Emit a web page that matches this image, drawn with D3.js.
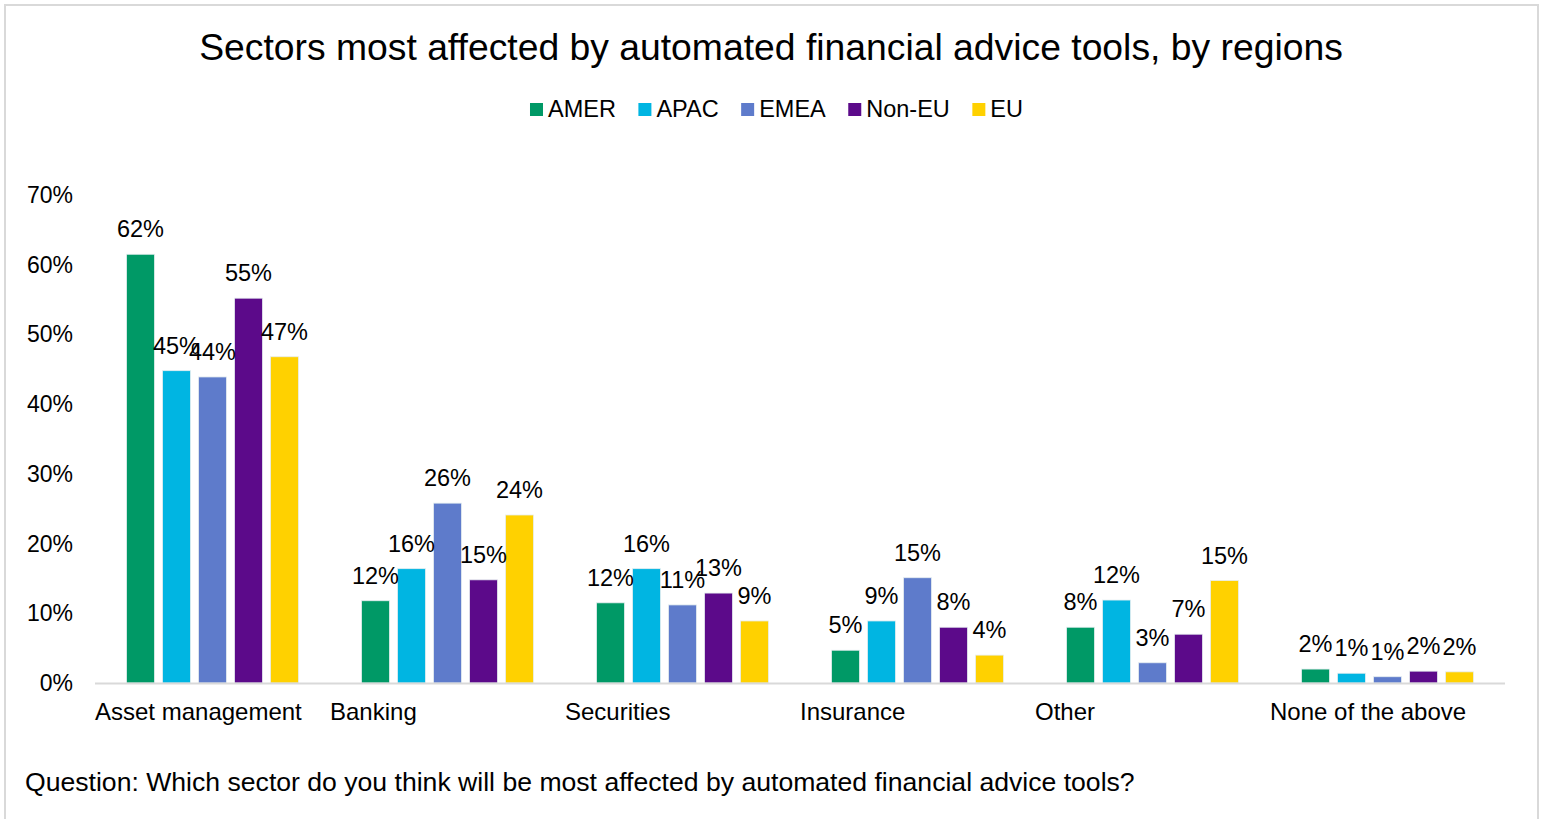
<!DOCTYPE html>
<html><head><meta charset="utf-8">
<script src="https://cdn.jsdelivr.net/npm/d3@7"></script>
<style>body{margin:0;background:#fff}svg{display:block;font-family:"Liberation Sans",Arial,sans-serif}</style>
</head><body>
<svg id="c" width="1541" height="819"></svg>
<script>
const categories = ["Asset management","Banking","Securities","Insurance","Other","None of the above"];
const seriesNames = ["AMER","APAC","EMEA","Non-EU","EU"];
const seriesColors = ["#009966","#00B5E2","#5E7BCB","#5C0A8A","#FFD100"];
const AMER  = [0.615,0.118,0.115,0.047,0.080,0.020];
const APAC  = [0.448,0.164,0.164,0.089,0.119,0.014];
const EMEA  = [0.439,0.258,0.112,0.151,0.029,0.009];
const NonEU = [0.552,0.148,0.129,0.080,0.070,0.017];
const EU    = [0.468,0.241,0.089,0.040,0.147,0.016];
const yTicks = [0,0.1,0.2,0.3,0.4,0.5,0.6,0.7];
const title = "Sectors most affected by automated financial advice tools, by regions";
const footnote = "Question: Which sector do you think will be most affected by automated financial advice tools?";

const seriesValues = [AMER,APAC,EMEA,NonEU,EU];
const svg = d3.select("#c");
svg.append("rect").attr("x",5).attr("y",5).attr("width",1533).attr("height",820)
  .attr("fill","#fff").attr("stroke","#d9d9d9").attr("stroke-width",2);

svg.append("text").attr("x",771).attr("y",60).attr("text-anchor","middle")
  .attr("font-size",37.3).attr("fill","#000").text(title);

// legend
const lg = svg.append("g");
let lx = 0;
const gap = 22.5;
seriesNames.forEach((n,i)=>{
  const g = lg.append("g").attr("transform",`translate(${lx},0)`);
  g.append("rect").attr("x",0).attr("y",-14).attr("width",13).attr("height",13).attr("fill",seriesColors[i]);
  const t = g.append("text").attr("x",18).attr("y",0).attr("font-size",23.5).attr("fill","#000").text(n);
  lx += 18 + t.node().getComputedTextLength() + gap;
});
lx -= gap;
lg.attr("transform",`translate(${776.5 - lx/2},117)`);

const x0 = d3.scaleBand().domain(categories).range([95,1505]).padding(0);
const x1 = d3.scaleBand().domain(seriesNames).range([0,x0.bandwidth()]).paddingInner(0.222).paddingOuter(0.875);
const y = d3.scaleLinear().domain([0,0.7]).range([683,195]);

// y tick labels
svg.append("g").selectAll("text").data(yTicks).join("text")
  .attr("x",73).attr("y",d=>y(d)+8).attr("text-anchor","end").attr("font-size",23).attr("fill","#000")
  .text(d3.format(".0%"));

// bars
const data = [];
categories.forEach((c,ci)=>seriesNames.forEach((s,si)=>data.push({c,s,si,v:seriesValues[si][ci]})));
svg.append("g").selectAll("rect").data(data).join("rect")
  .attr("x",d=>x0(d.c)+x1(d.s)).attr("width",x1.bandwidth())
  .attr("y",d=>y(d.v)).attr("height",d=>y(0)-y(d.v))
  .attr("fill",d=>seriesColors[d.si]).attr("stroke","#e6eef0").attr("stroke-width",0.8);

// axis line
svg.append("line").attr("x1",95).attr("x2",1505).attr("y1",683.5).attr("y2",683.5)
  .attr("stroke","#d9d9d9").attr("stroke-width",2);

// data labels
svg.append("g").selectAll("text").data(data).join("text")
  .attr("x",d=>x0(d.c)+x1(d.s)+x1.bandwidth()/2).attr("y",d=>y(d.v)-17)
  .attr("text-anchor","middle").attr("font-size",23.5).attr("fill","#000")
  .text(d=>d3.format(".0%")(d.v));

// category labels
svg.append("g").selectAll("text").data(categories).join("text")
  .attr("x",d=>x0(d)).attr("y",720).attr("font-size",24).attr("fill","#000").text(d=>d);

svg.append("text").attr("x",25).attr("y",791).attr("font-size",26.6).attr("fill","#000").text(footnote);
</script>
</body></html>
